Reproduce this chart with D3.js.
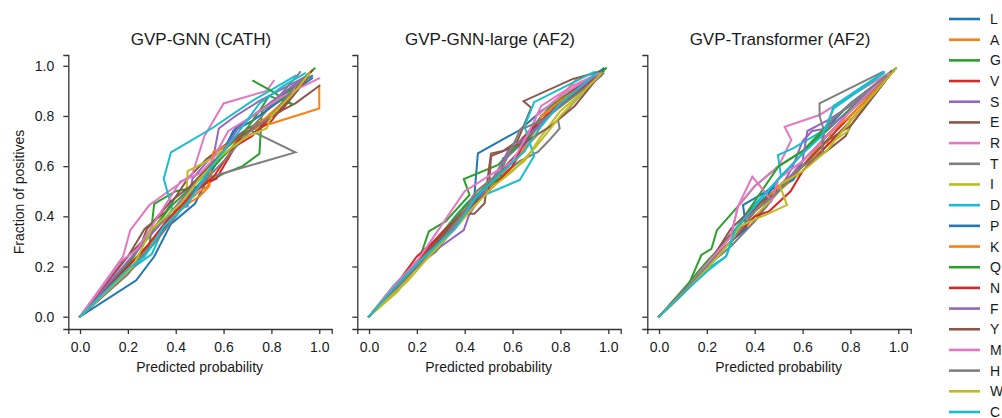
<!DOCTYPE html>
<html><head><meta charset="utf-8">
<script src="https://cdn.jsdelivr.net/npm/d3@7"></script>
<style>body{margin:0;background:#fff}svg{display:block;font-family:"Liberation Sans",Arial,sans-serif}</style>
</head><body><svg id="c" width="1002" height="418"></svg>
<script>
const aminoAcids = ["L","A","G","V","S","E","R","T","I","D","P","K","Q","N","F","Y","M","H","W","C"];
const panelTitles = ["GVP-GNN (CATH)","GVP-GNN-large (AF2)","GVP-Transformer (AF2)"];
const xTicks = [0,0.2,0.4,0.6,0.8,1.0];
const yTicks = [0,0.2,0.4,0.6,0.8,1.0];
const xLabel = "Predicted probability";
const yLabel = "Fraction of positives";

const gnnCath = [
 [[0,0],[0.235,0.145],[0.31,0.24],[0.38,0.37],[0.48,0.45],[0.55,0.58],[0.65,0.75],[0.75,0.82],[0.87,0.9],[0.97,0.96]],
 [[0,0],[0.22,0.2],[0.3,0.3],[0.4,0.42],[0.5,0.48],[0.54,0.52],[0.56,0.65],[0.7,0.74],[0.8,0.77],[1.0,0.83],[1.0,0.92]],
 [[0,0],[0.22,0.2],[0.29,0.28],[0.31,0.45],[0.4,0.5],[0.5,0.52],[0.6,0.57],[0.68,0.6],[0.75,0.65],[0.76,0.82],[0.85,0.88],[0.98,0.99]],
 [[0,0],[0.2,0.2],[0.27,0.27],[0.34,0.35],[0.42,0.44],[0.5,0.52],[0.57,0.55],[0.65,0.68],[0.72,0.72],[0.8,0.8],[0.97,0.98]],
 [[0,0],[0.2,0.22],[0.27,0.3],[0.38,0.42],[0.45,0.44],[0.47,0.55],[0.56,0.65],[0.58,0.75],[0.65,0.8],[0.75,0.86],[0.95,0.96]],
 [[0,0],[0.2,0.24],[0.27,0.35],[0.36,0.42],[0.45,0.55],[0.53,0.63],[0.6,0.68],[0.7,0.75],[0.8,0.8],[0.9,0.85],[1.0,0.92]],
 [[0,0],[0.18,0.24],[0.21,0.345],[0.29,0.445],[0.4,0.52],[0.47,0.57],[0.52,0.72],[0.6,0.85],[0.78,0.9],[0.81,0.94]],
 [[0,0],[0.2,0.17],[0.3,0.3],[0.42,0.45],[0.52,0.55],[0.9,0.655],[0.71,0.744],[0.92,0.975]],
 [[0,0],[0.2,0.2],[0.28,0.33],[0.38,0.4],[0.44,0.44],[0.45,0.58],[0.55,0.63],[0.65,0.7],[0.73,0.73],[0.75,0.77],[0.85,0.85],[0.95,0.95]],
 [[0,0],[0.2,0.18],[0.3,0.25],[0.385,0.43],[0.35,0.55],[0.38,0.655],[0.55,0.75],[0.72,0.86],[0.9,0.96]],
 [[0,0],[0.2,0.2],[0.3,0.3],[0.4,0.4],[0.5,0.53],[0.58,0.62],[0.64,0.74],[0.72,0.78],[0.82,0.85],[0.97,0.95]],
 [[0,0],[0.22,0.22],[0.3,0.3],[0.4,0.42],[0.5,0.5],[0.535,0.52],[0.557,0.657],[0.65,0.7],[0.75,0.77],[0.9,0.9],[0.96,0.97]],
 [[0,0],[0.21,0.22],[0.28,0.32],[0.38,0.44],[0.47,0.52],[0.58,0.62],[0.66,0.7],[0.75,0.82],[0.79,0.88],[0.89,0.845],[0.8,0.9],[0.724,0.94]],
 [[0,0],[0.2,0.2],[0.28,0.28],[0.36,0.38],[0.46,0.48],[0.56,0.56],[0.66,0.7],[0.72,0.73],[0.8,0.78],[0.88,0.88],[0.96,0.97]],
 [[0,0],[0.2,0.22],[0.3,0.33],[0.4,0.44],[0.5,0.55],[0.6,0.66],[0.66,0.75],[0.72,0.8],[0.82,0.87],[0.93,0.95]],
 [[0,0],[0.18,0.22],[0.26,0.3],[0.28,0.35],[0.38,0.46],[0.46,0.52],[0.56,0.62],[0.64,0.7],[0.74,0.76],[0.84,0.82],[0.95,0.95]],
 [[0,0],[0.17,0.22],[0.24,0.27],[0.36,0.45],[0.42,0.54],[0.5,0.57],[0.55,0.62],[0.62,0.74],[0.72,0.8],[0.85,0.88],[1.0,0.95]],
 [[0,0],[0.2,0.17],[0.3,0.28],[0.4,0.4],[0.5,0.52],[0.6,0.62],[0.7,0.73],[0.8,0.8],[0.9,0.92],[0.95,0.96]],
 [[0,0],[0.22,0.2],[0.3,0.35],[0.42,0.45],[0.5,0.55],[0.6,0.65],[0.7,0.72],[0.78,0.75],[0.8,0.8],[0.9,0.9],[0.96,0.97]],
 [[0,0],[0.2,0.19],[0.27,0.24],[0.35,0.36],[0.45,0.45],[0.55,0.6],[0.65,0.72],[0.75,0.85],[0.85,0.92],[0.94,0.97]]
];

const gnnLargeAf2 = [
 [[0,0],[0.12,0.12],[0.22,0.22],[0.3,0.3],[0.38,0.4],[0.441,0.49],[0.455,0.651],[0.63,0.744],[0.72,0.82],[0.85,0.9],[0.98,0.98]],
 [[0,0],[0.1,0.1],[0.2,0.2],[0.3,0.31],[0.4,0.43],[0.5,0.5],[0.6,0.6],[0.7,0.75],[0.75,0.82],[0.87,0.95],[0.97,0.98]],
 [[0,0],[0.1,0.11],[0.2,0.2],[0.25,0.34],[0.32,0.38],[0.42,0.485],[0.396,0.549],[0.54,0.605],[0.65,0.72],[0.75,0.83],[0.85,0.9],[0.99,0.99]],
 [[0,0],[0.1,0.11],[0.2,0.24],[0.27,0.3],[0.35,0.38],[0.45,0.46],[0.5,0.53],[0.55,0.58],[0.63,0.66],[0.64,0.71],[0.75,0.8],[0.85,0.9],[0.97,0.98]],
 [[0,0],[0.1,0.1],[0.2,0.2],[0.3,0.28],[0.396,0.345],[0.42,0.41],[0.5,0.52],[0.56,0.62],[0.65,0.7],[0.75,0.8],[0.88,0.9],[0.97,0.97]],
 [[0,0],[0.1,0.11],[0.2,0.21],[0.3,0.31],[0.4,0.41],[0.44,0.41],[0.483,0.452],[0.5,0.58],[0.51,0.65],[0.56,0.66],[0.62,0.7],[0.678,0.833],[0.646,0.859],[0.85,0.947],[0.98,0.98]],
 [[0,0],[0.1,0.12],[0.2,0.2],[0.3,0.32],[0.4,0.44],[0.45,0.5],[0.55,0.57],[0.65,0.66],[0.7,0.8],[0.8,0.88],[0.97,0.98]],
 [[0,0],[0.1,0.1],[0.2,0.2],[0.28,0.26],[0.36,0.36],[0.45,0.47],[0.55,0.56],[0.63,0.62],[0.706,0.657],[0.75,0.7],[0.797,0.75],[0.79,0.784],[0.9,0.9],[0.98,0.97]],
 [[0,0],[0.12,0.1],[0.2,0.2],[0.28,0.28],[0.36,0.36],[0.44,0.46],[0.55,0.55],[0.65,0.62],[0.72,0.72],[0.8,0.82],[0.9,0.9],[0.97,0.97]],
 [[0,0],[0.12,0.12],[0.2,0.2],[0.28,0.3],[0.36,0.4],[0.414,0.458],[0.63,0.545],[0.69,0.64],[0.65,0.76],[0.69,0.855],[0.94,0.975]],
 [[0,0],[0.1,0.1],[0.22,0.22],[0.3,0.32],[0.4,0.42],[0.5,0.52],[0.58,0.6],[0.66,0.7],[0.72,0.8],[0.82,0.87],[0.98,0.99]],
 [[0,0],[0.1,0.1],[0.2,0.21],[0.3,0.3],[0.4,0.41],[0.5,0.5],[0.6,0.62],[0.7,0.72],[0.72,0.8],[0.8,0.86],[0.97,0.97]],
 [[0,0],[0.1,0.12],[0.22,0.24],[0.3,0.33],[0.4,0.44],[0.5,0.53],[0.55,0.55],[0.56,0.63],[0.65,0.7],[0.75,0.8],[0.9,0.92],[0.99,0.99]],
 [[0,0],[0.1,0.11],[0.2,0.22],[0.3,0.33],[0.4,0.42],[0.5,0.5],[0.6,0.6],[0.64,0.68],[0.68,0.75],[0.8,0.85],[0.97,0.97]],
 [[0,0],[0.1,0.1],[0.2,0.2],[0.3,0.3],[0.4,0.4],[0.5,0.52],[0.55,0.6],[0.58,0.66],[0.7,0.75],[0.8,0.85],[0.96,0.97]],
 [[0,0],[0.12,0.12],[0.2,0.2],[0.3,0.32],[0.4,0.42],[0.5,0.5],[0.51,0.64],[0.56,0.66],[0.66,0.7],[0.76,0.76],[0.86,0.84],[0.97,0.97]],
 [[0,0],[0.1,0.12],[0.2,0.22],[0.3,0.36],[0.4,0.5],[0.5,0.56],[0.6,0.62],[0.66,0.72],[0.72,0.84],[0.85,0.92],[0.96,0.97]],
 [[0,0],[0.1,0.1],[0.2,0.2],[0.3,0.3],[0.4,0.42],[0.45,0.5],[0.55,0.58],[0.62,0.72],[0.63,0.745],[0.72,0.78],[0.86,0.88],[0.97,0.96]],
 [[0,0],[0.1,0.09],[0.16,0.14],[0.25,0.24],[0.35,0.34],[0.44,0.44],[0.52,0.52],[0.6,0.58],[0.7,0.68],[0.8,0.8],[0.9,0.9],[0.97,0.97]],
 [[0,0],[0.1,0.11],[0.2,0.21],[0.3,0.3],[0.36,0.35],[0.45,0.48],[0.55,0.57],[0.65,0.66],[0.72,0.76],[0.8,0.85],[0.95,0.97]]
];

const transformerAf2 = [
 [[0,0],[0.12,0.12],[0.2,0.2],[0.3,0.3],[0.36,0.4],[0.45,0.48],[0.5,0.55],[0.6,0.65],[0.7,0.75],[0.8,0.85],[0.98,0.98]],
 [[0,0],[0.12,0.11],[0.2,0.2],[0.3,0.3],[0.4,0.38],[0.45,0.45],[0.55,0.55],[0.6,0.6],[0.7,0.72],[0.8,0.8],[0.97,0.97]],
 [[0,0],[0.12,0.12],[0.177,0.246],[0.219,0.27],[0.242,0.345],[0.33,0.44],[0.4,0.52],[0.5,0.6],[0.6,0.66],[0.7,0.74],[0.8,0.83],[0.99,0.99]],
 [[0,0],[0.12,0.11],[0.2,0.2],[0.3,0.3],[0.4,0.4],[0.45,0.44],[0.5,0.52],[0.6,0.6],[0.7,0.7],[0.8,0.8],[0.98,0.98]],
 [[0,0],[0.12,0.12],[0.2,0.2],[0.3,0.3],[0.4,0.42],[0.5,0.5],[0.56,0.6],[0.6,0.7],[0.64,0.74],[0.7,0.75],[0.8,0.82],[0.97,0.98]],
 [[0,0],[0.12,0.12],[0.2,0.21],[0.3,0.33],[0.4,0.43],[0.5,0.52],[0.6,0.6],[0.7,0.66],[0.78,0.72],[0.8,0.76],[0.97,0.97]],
 [[0,0],[0.12,0.12],[0.2,0.2],[0.3,0.32],[0.33,0.44],[0.4,0.52],[0.5,0.6],[0.553,0.704],[0.525,0.757],[0.671,0.804],[0.8,0.88],[0.96,0.97]],
 [[0,0],[0.12,0.11],[0.2,0.2],[0.3,0.28],[0.4,0.38],[0.5,0.5],[0.6,0.6],[0.685,0.655],[0.69,0.74],[0.671,0.8],[0.671,0.85],[0.936,0.976]],
 [[0,0],[0.12,0.11],[0.2,0.2],[0.3,0.3],[0.4,0.4],[0.5,0.5],[0.6,0.58],[0.7,0.68],[0.79,0.74],[0.8,0.8],[0.98,0.98]],
 [[0,0],[0.12,0.11],[0.2,0.19],[0.28,0.24],[0.33,0.36],[0.4,0.45],[0.51,0.558],[0.497,0.644],[0.56,0.671],[0.7,0.75],[0.73,0.84],[0.94,0.975]],
 [[0,0],[0.12,0.12],[0.2,0.2],[0.3,0.3],[0.365,0.352],[0.351,0.445],[0.45,0.5],[0.561,0.545],[0.6,0.62],[0.7,0.72],[0.8,0.82],[0.98,0.98]],
 [[0,0],[0.12,0.11],[0.2,0.2],[0.3,0.3],[0.4,0.42],[0.5,0.52],[0.6,0.6],[0.7,0.68],[0.72,0.74],[0.8,0.8],[0.97,0.97]],
 [[0,0],[0.12,0.13],[0.2,0.22],[0.3,0.32],[0.4,0.46],[0.5,0.6],[0.6,0.66],[0.72,0.78],[0.8,0.85],[0.99,0.99]],
 [[0,0],[0.12,0.12],[0.2,0.2],[0.3,0.3],[0.4,0.4],[0.46,0.42],[0.55,0.5],[0.6,0.58],[0.7,0.68],[0.8,0.78],[0.98,0.98]],
 [[0,0],[0.12,0.12],[0.2,0.2],[0.3,0.3],[0.4,0.42],[0.5,0.5],[0.6,0.62],[0.62,0.74],[0.7,0.78],[0.8,0.84],[0.96,0.97]],
 [[0,0],[0.12,0.12],[0.2,0.2],[0.3,0.35],[0.4,0.44],[0.5,0.5],[0.6,0.6],[0.7,0.7],[0.8,0.76],[0.97,0.97]],
 [[0,0],[0.12,0.12],[0.2,0.21],[0.3,0.32],[0.33,0.44],[0.39,0.558],[0.44,0.5],[0.47,0.46],[0.5,0.55],[0.6,0.62],[0.7,0.72],[0.8,0.82],[0.96,0.97]],
 [[0,0],[0.12,0.12],[0.2,0.2],[0.3,0.3],[0.4,0.42],[0.5,0.5],[0.6,0.6],[0.68,0.65],[0.685,0.74],[0.72,0.78],[0.8,0.85],[0.95,0.96]],
 [[0,0],[0.12,0.11],[0.2,0.19],[0.3,0.3],[0.337,0.36],[0.535,0.445],[0.504,0.525],[0.6,0.58],[0.7,0.66],[0.8,0.78],[0.99,0.99]],
 [[0,0],[0.12,0.11],[0.2,0.18],[0.28,0.24],[0.32,0.35],[0.4,0.44],[0.5,0.55],[0.6,0.65],[0.68,0.72],[0.73,0.83],[0.94,0.97]]
];

const panels = [gnnCath, gnnLargeAf2, transformerAf2];
const palette = ["#1f77b4","#ff7f0e","#2ca02c","#d62728","#9467bd","#8c564b","#e377c2","#7f7f7f","#bcbd22","#17becf"];
const color = d3.scaleOrdinal().domain(aminoAcids).range(palette);

const svg = d3.select("#c");
const axisColor = "#333";
const fontSize = 14;
const panelLeft = [68.3, 357.3, 647.3];
const panelW = 263.4;
const plotTop = 55, plotBottom = 329;

const y = d3.scaleLinear().domain([-0.049, 1.043]).range([plotBottom, plotTop]);

panels.forEach((series, pi) => {
  const x0 = panelLeft[pi];
  const x = d3.scaleLinear().domain([-0.049, 1.052]).range([x0, x0 + panelW]);
  const g = svg.append("g");

  const line = d3.line().x(d => x(d[0])).y(d => y(d[1]));
  series.forEach((pts, si) => {
    g.append("path").attr("d", line(pts)).attr("fill","none")
      .attr("stroke", color(aminoAcids[si])).attr("stroke-width", 2)
      .attr("stroke-linejoin","miter").attr("stroke-linecap","square");
  });

  const xa = g.append("g").attr("transform", `translate(0,${plotBottom})`)
    .call(d3.axisBottom(x).tickValues(xTicks).tickFormat(d3.format(".1f")).tickSizeOuter(0).tickSize(5).tickPadding(8));
  const ya = g.append("g").attr("transform", `translate(${x0},0)`)
    .call(d3.axisLeft(y).tickValues(yTicks).tickFormat(pi === 0 ? d3.format(".1f") : () => "").tickSizeOuter(0).tickSize(5).tickPadding(9));
  [xa, ya].forEach(a => {
    a.select(".domain").attr("stroke", axisColor).attr("stroke-width", 1.3);
    a.selectAll(".tick line").attr("stroke", axisColor).attr("stroke-width", 1.3);
    a.selectAll("text").attr("fill", "#1a1a1a").style("font-size", fontSize + "px").style("font-family", '"Liberation Sans",Arial,sans-serif');
  });

  g.append("text").attr("x", x0 + panelW/2 + 1).attr("y", 44.5).attr("text-anchor","middle")
    .style("font-size","17px").attr("fill","#1a1a1a").text(panelTitles[pi]);
  g.append("text").attr("x", x(0.5)).attr("y", 371.5).attr("text-anchor","middle")
    .style("font-size", fontSize + "px").attr("fill","#1a1a1a").text(xLabel);
  if (pi === 0) {
    g.append("text").attr("transform", `translate(24,${(plotTop+plotBottom)/2}) rotate(-90)`).attr("text-anchor","middle")
      .style("font-size", fontSize + "px").attr("fill","#1a1a1a").text(yLabel);
  }
});

const lg = svg.append("g");
const ly = d3.scalePoint().domain(aminoAcids).range([19, 412]);
aminoAcids.forEach(aa => {
  lg.append("line").attr("x1", 949).attr("x2", 980).attr("y1", ly(aa)).attr("y2", ly(aa))
    .attr("stroke", color(aa)).attr("stroke-width", 2.6);
  lg.append("text").attr("x", 990).attr("y", ly(aa) + 5).style("font-size", fontSize + "px")
    .attr("fill","#1a1a1a").text(aa);
});
</script></body></html>
